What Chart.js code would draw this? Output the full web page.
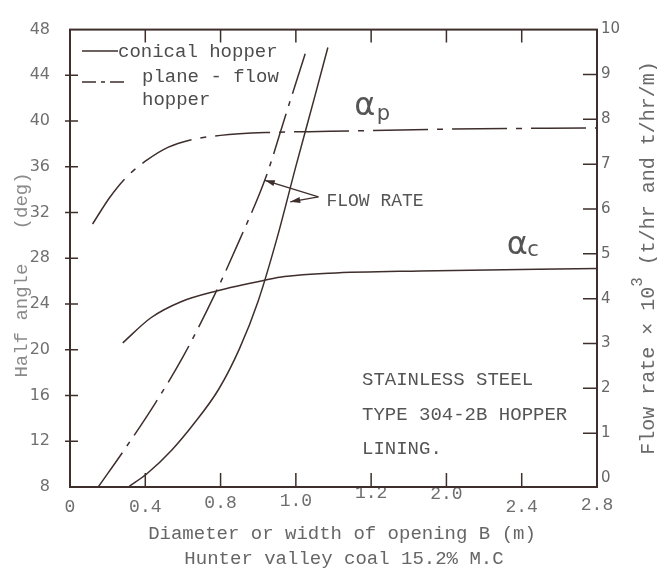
<!DOCTYPE html>
<html>
<head>
<meta charset="utf-8">
<style>
  html, body { margin: 0; padding: 0; background: #fff; }
</style>
<script src="https://cdn.jsdelivr.net/npm/chart.js@4.4.0/dist/chart.umd.min.js"></script>
</head>
<body>
<canvas id="hopperChart" width="657" height="575"></canvas>
<script>
// bottom scale: opening B (m) and the labels printed under each tick
const bTicks = [0, 0.4, 0.8, 1.2, 1.6, 2.0, 2.4, 2.8];
const bTickLabels = ['0', '0.4', '0.8', '1.0', '1.2', '2.0', '2.4', '2.8'];
const angleTicks = [8, 12, 16, 20, 24, 28, 32, 36, 40, 44, 48];
const flowTicks = [0, 1, 2, 3, 4, 5, 6, 7, 8, 9, 10];

// half angle alpha_c, conical hopper (deg)
const alphaCB = [0.28, 0.43, 0.59, 0.77, 1.04, 1.14, 1.38, 1.86, 2.8];
const alphaCDeg = [20.6, 22.8, 24.2, 25.1, 26.1, 26.4, 26.7, 26.9, 27.1];

// half angle alpha_p, plane-flow hopper (deg)
const alphaPB = [0.12, 0.21, 0.30, 0.41, 0.52, 0.64, 0.80, 1.05, 1.38, 2.02, 2.8];
const alphaPDeg = [31.0, 33.3, 35.1, 36.6, 37.7, 38.35, 38.75, 39.0, 39.1, 39.3, 39.4];

// flow rate x 10^3, conical hopper (t/hr)
const flowCB = [0.31, 0.41, 0.54, 0.66, 0.79, 0.90, 1.00, 1.10, 1.20, 1.30, 1.37];
const flowC = [-0.2, 0.10, 0.62, 1.22, 1.98, 2.88, 3.95, 5.35, 6.95, 8.50, 9.60];

// flow rate x 10^3, plane-flow hopper (t/hr/m)
const flowPB = [0.15, 0.30, 0.45, 0.60, 0.77, 0.90, 1.04, 1.15, 1.26];
const flowP = [-0.2, 0.70, 1.65, 2.70, 4.10, 5.30, 6.70, 8.15, 9.60];

const ink = '#3e2e2c';
const mono = '"Liberation Mono", monospace';
const sans = '"DejaVu Sans", sans-serif';

// how far each bottom label sits below the axis line (px)
const bLabelDrop = [20, 20, 16, 14, 6, 7, 20, 18];

function points(xs, ys) {
    return xs.map((b, i) => ({ x: b, y: ys[i] }));
}

function arrow(ctx, x0, y0, x1, y1) {
    const ang = Math.atan2(y1 - y0, x1 - x0);
    ctx.beginPath();
    ctx.moveTo(x0, y0);
    ctx.lineTo(x1, y1);
    ctx.stroke();
    ctx.beginPath();
    ctx.moveTo(x1, y1);
    ctx.lineTo(x1 - 10 * Math.cos(ang) + 3 * Math.sin(ang), y1 - 10 * Math.sin(ang) - 3 * Math.cos(ang));
    ctx.lineTo(x1 - 10 * Math.cos(ang) - 3 * Math.sin(ang), y1 - 10 * Math.sin(ang) + 3 * Math.cos(ang));
    ctx.closePath();
    ctx.fill();
}

// box, inward tick marks, legend, titles and notes
const decorations = {
    id: 'decorations',
    afterDraw(chart) {
        const { ctx, chartArea: a, scales: { x, y, y2 } } = chart;
        ctx.save();
        ctx.strokeStyle = ink;
        ctx.fillStyle = ink;

        ctx.lineWidth = 2;
        ctx.strokeRect(a.left, a.top, a.right - a.left, a.bottom - a.top);

        ctx.lineWidth = 1.5;
        ctx.beginPath();
        bTicks.slice(1, -1).forEach(v => {
            const px = x.getPixelForValue(v);
            ctx.moveTo(px, a.bottom); ctx.lineTo(px, a.bottom - 14);
            ctx.moveTo(px, a.top); ctx.lineTo(px, a.top + 13);
        });
        angleTicks.slice(1, -1).forEach(v => {
            const py = y.getPixelForValue(v);
            ctx.moveTo(a.left - 5, py); ctx.lineTo(a.left + 8, py);
        });
        flowTicks.slice(1, -1).forEach(v => {
            const py = y2.getPixelForValue(v);
            ctx.moveTo(a.right - 14, py); ctx.lineTo(a.right, py);
        });
        ctx.stroke();

        // legend
        ctx.lineWidth = 1.5;
        ctx.beginPath();
        ctx.moveTo(82, 51); ctx.lineTo(118, 51);
        ctx.stroke();
        ctx.setLineDash([14, 5, 4, 5]);
        ctx.beginPath();
        ctx.moveTo(82, 82); ctx.lineTo(126, 82);
        ctx.stroke();
        ctx.setLineDash([]);
        ctx.fillStyle = '#4d4d4d';
        ctx.font = '19px ' + mono;
        ctx.textBaseline = 'middle';
        ctx.textAlign = 'left';
        ctx.fillText('conical hopper', 118, 52);
        ctx.fillText('plane - flow', 142, 77);
        ctx.fillText('hopper', 142, 100);

        // curve names
        ctx.fillStyle = '#555';
        ctx.textBaseline = 'alphabetic';
        ctx.font = '32px ' + sans;
        ctx.fillText('α', x.getPixelForValue(1.51), y.getPixelForValue(40.5));
        ctx.fillText('α', x.getPixelForValue(2.32), y.getPixelForValue(28.4));
        ctx.font = '21px ' + sans;
        ctx.fillText('p', x.getPixelForValue(1.63), y.getPixelForValue(40.1));
        ctx.fillText('c', x.getPixelForValue(2.43), y.getPixelForValue(28.2));

        // flow rate pointer
        ctx.strokeStyle = ink;
        ctx.fillStyle = ink;
        ctx.lineWidth = 1.3;
        const fx = x.getPixelForValue(1.32), fy = y2.getPixelForValue(6.27);
        arrow(ctx, fx, fy, x.getPixelForValue(1.035), y2.getPixelForValue(6.64));
        arrow(ctx, fx, fy, x.getPixelForValue(1.17), y2.getPixelForValue(6.16));
        ctx.fillStyle = '#555';
        ctx.textBaseline = 'middle';
        ctx.font = '18px ' + mono;
        ctx.fillText('FLOW RATE', fx + 8, fy + 4);

        ctx.font = '19px ' + mono;
        ctx.fillText('STAINLESS STEEL', 362, 380);
        ctx.fillText('TYPE 304-2B HOPPER', 362, 415);
        ctx.fillText('LINING.', 362, 449);

        // axis titles
        ctx.fillStyle = '#666';
        ctx.textAlign = 'center';
        ctx.fillText('Diameter or width of opening B (m)', 342, 534);
        ctx.fillText('Hunter valley coal 15.2% M.C', 344, 559);

        ctx.save();
        ctx.translate(27, 275);
        ctx.rotate(-Math.PI / 2);
        ctx.fillStyle = '#8a8a8a';
        ctx.textBaseline = 'alphabetic';
        ctx.fillText('Half angle   (deg)', 0, 0);
        ctx.restore();

        ctx.save();
        ctx.translate(654, 258);
        ctx.rotate(-Math.PI / 2);
        ctx.fillStyle = '#6a6a6a';
        ctx.textAlign = 'left';
        ctx.textBaseline = 'alphabetic';
        ctx.font = '20px ' + mono;
        const head = 'Flow rate × 10', tail = ' (t/hr and t/hr/m)';
        const wHead = ctx.measureText(head).width, wTail = ctx.measureText(tail).width;
        ctx.font = '16px ' + mono;
        const wSup = ctx.measureText('3').width;
        let cx = -(wHead + wSup + wTail) / 2;
        ctx.font = '20px ' + mono;
        ctx.fillText(head, cx, 0);
        cx += wHead;
        ctx.font = '16px ' + mono;
        ctx.fillText('3', cx, -12);
        cx += wSup;
        ctx.font = '20px ' + mono;
        ctx.fillText(tail, cx, 0);
        ctx.restore();

        ctx.restore();
    }
};

const curve = (data, axis, dash) => ({
    data: data,
    yAxisID: axis,
    borderColor: ink,
    borderWidth: 1.5,
    borderDash: dash || [],
    pointRadius: 0,
    fill: false,
    cubicInterpolationMode: 'monotone'
});

const ctx = document.getElementById('hopperChart').getContext('2d');
new Chart(ctx, {
    type: 'line',
    data: {
        datasets: [
            curve(points(alphaCB, alphaCDeg), 'y'),
            curve(points(alphaPB, alphaPDeg), 'y', [55, 9, 6, 9]),
            curve(points(flowCB, flowC), 'y2'),
            curve(points(flowPB, flowP), 'y2', [42, 8, 5, 8])
        ]
    },
    options: {
        responsive: false,
        animation: false,
        devicePixelRatio: 1,
        layout: { padding: { top: 22, left: 0, right: 0, bottom: 0 } },
        plugins: { legend: { display: false }, tooltip: { enabled: false } },
        scales: {
            x: {
                type: 'linear',
                min: 0,
                max: 2.8,
                afterBuildTicks: s => { s.ticks = bTicks.map(v => ({ value: v })); },
                afterFit: s => { s.height = 88; },
                grid: { display: false, drawTicks: false },
                border: { display: false },
                ticks: {
                    autoSkip: false,
                    maxRotation: 0,
                    padding: 0,
                    color: '#6e6e6e',
                    font: c => ({ family: mono, size: 18, lineHeight: (2 * bLabelDrop[c.index]) + 'px' }),
                    callback: (v, i) => bTickLabels[i]
                }
            },
            y: {
                position: 'left',
                min: 8,
                max: 48,
                afterBuildTicks: s => { s.ticks = angleTicks.map(v => ({ value: v })); },
                afterFit: s => { s.width = 70; },
                grid: { display: false, drawTicks: false },
                border: { display: false },
                ticks: { padding: 20, color: '#707070', font: { family: sans, size: 16 } }
            },
            y2: {
                position: 'right',
                min: -0.2,
                max: 10,
                afterBuildTicks: s => { s.ticks = flowTicks.map(v => ({ value: v })); },
                afterFit: s => { s.width = 60; },
                grid: { display: false, drawTicks: false },
                border: { display: false },
                ticks: { padding: 4, color: '#666', font: { family: sans, size: 15 } }
            }
        }
    },
    plugins: [decorations]
});
</script>
</body>
</html>
